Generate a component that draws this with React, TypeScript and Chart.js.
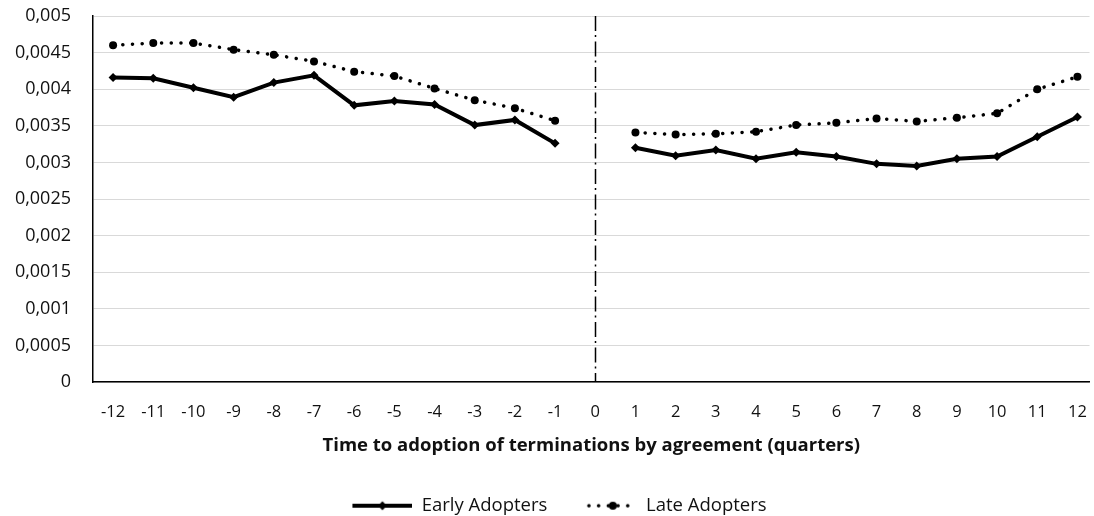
import { useEffect, useRef } from "react";
import { Chart, registerables } from "chart.js";

Chart.register(...registerables);

// quarters relative to adoption; 0 has no observation
const quarters = [-12, -11, -10, -9, -8, -7, -6, -5, -4, -3, -2, -1, 0, 1, 2, 3, 4, 5, 6, 7, 8, 9, 10, 11, 12];

const earlyAdopters = [
  0.00416, 0.00415, 0.00402, 0.00389, 0.00409, 0.00419, 0.00378, 0.00384, 0.00379, 0.00351, 0.00358, 0.00326,
  null,
  0.0032, 0.00309, 0.00317, 0.00305, 0.00314, 0.00308, 0.00298, 0.00295, 0.00305, 0.00308, 0.00335, 0.00362,
];

const lateAdopters = [
  0.0046, 0.00463, 0.00463, 0.00454, 0.00447, 0.00438, 0.00424, 0.00418, 0.00401, 0.00385, 0.00374, 0.00357,
  null,
  0.00341, 0.00338, 0.00339, 0.00342, 0.00351, 0.00354, 0.0036, 0.00356, 0.00361, 0.00367, 0.004, 0.00417,
];

const yTickValues = [0, 0.0005, 0.001, 0.0015, 0.002, 0.0025, 0.003, 0.0035, 0.004, 0.0045, 0.005];
const yTickLabels = ["0", "0,0005", "0,001", "0,0015", "0,002", "0,0025", "0,003", "0,0035", "0,004", "0,0045", "0,005"];

const xTitle = "Time to adoption of terminations by agreement (quarters)";
const seriesNames = ["Early Adopters", "Late Adopters"];

const FONT = "'Open Sans', sans-serif";
const TEXT = "#111";

// legend symbol: a short piece of line with the marker in the middle
// (left part of the canvas stays blank, it spaces the items apart)
function legendSymbol(dotted: boolean) {
  const c = document.createElement("canvas");
  c.width = 85;
  c.height = 14;
  const g = c.getContext("2d")!;
  g.strokeStyle = "#000";
  g.fillStyle = "#000";
  g.beginPath();
  if (dotted) {
    g.lineCap = "round";
    g.lineWidth = 3.5;
    g.setLineDash([0.1, 9.6]);
    g.moveTo(37, 7);
    g.lineTo(85, 7);
  } else {
    g.lineWidth = 4;
    g.moveTo(25, 7);
    g.lineTo(85, 7);
  }
  g.stroke();
  g.setLineDash([]);
  g.beginPath();
  if (dotted) {
    g.arc(61, 7, 4, 0, Math.PI * 2);
  } else {
    g.moveTo(55, 2.5);
    g.lineTo(59.5, 7);
    g.lineTo(55, 11.5);
    g.lineTo(50.5, 7);
    g.closePath();
  }
  g.fill();
  return c;
}

const adoptionLine = {
  id: "adoptionLine",
  afterDatasetsDraw(chart: Chart) {
    const { ctx, chartArea, scales } = chart;
    const x = Math.round(scales.x.getPixelForValue(0)) + 0.5;
    ctx.save();
    ctx.strokeStyle = "#000";
    ctx.lineWidth = 1.5;
    ctx.setLineDash([15, 4, 2, 4.5]);
    ctx.beginPath();
    ctx.moveTo(x, chartArea.top);
    ctx.lineTo(x, chartArea.bottom);
    ctx.stroke();
    ctx.restore();
  },
};

export default function App() {
  const chartRef = useRef<HTMLCanvasElement>(null);

  useEffect(() => {
    if (!chartRef.current) return;
    const ctx = chartRef.current.getContext("2d");
    if (!ctx) return;

    const symbols = [legendSymbol(false), legendSymbol(true)];

    const chart = new Chart(ctx, {
      type: "line",
      data: {
        datasets: [
          {
            label: seriesNames[0],
            data: quarters.map((q, i) => ({ x: q, y: earlyAdopters[i] })),
            borderColor: "#000",
            backgroundColor: "#000",
            borderWidth: 4,
            pointStyle: "rectRot",
            pointRadius: 4.5,
            pointBorderWidth: 0,
            tension: 0,
            spanGaps: false,
          },
          {
            label: seriesNames[1],
            data: quarters.map((q, i) => ({ x: q, y: lateAdopters[i] })),
            borderColor: "#000",
            backgroundColor: "#000",
            borderWidth: 3.5,
            borderDash: [0.1, 9.6],
            borderCapStyle: "round",
            pointStyle: "circle",
            pointRadius: 4,
            pointBorderWidth: 0,
            tension: 0,
            spanGaps: false,
          },
        ],
      },
      options: {
        animation: false,
        responsive: true,
        maintainAspectRatio: false,
        layout: { padding: { top: 16, left: 0, right: 0, bottom: -9 } },
        plugins: {
          tooltip: { enabled: false },
          legend: {
            position: "bottom",
            labels: {
              usePointStyle: true,
              pointStyleWidth: 85,
              padding: 4.5,
              color: TEXT,
              font: { family: FONT, size: 18.5 },
              generateLabels: () =>
                seriesNames.map((name, i) => ({
                  text: name,
                  pointStyle: symbols[i],
                  datasetIndex: i,
                  fillStyle: "#000",
                  strokeStyle: "#000",
                  fontColor: TEXT,
                  lineWidth: 0,
                  hidden: false,
                })),
            },
          },
        },
        scales: {
          x: {
            type: "linear",
            min: -12.5,
            max: 12.3,
            afterBuildTicks: (axis) => {
              axis.ticks = quarters.map((v) => ({ value: v }));
            },
            afterFit: (scale) => {
              scale.height = 110;
            },
            grid: {
              display: true,
              drawOnChartArea: false,
              drawTicks: true,
              tickLength: 20,
              tickColor: "rgba(0,0,0,0)",
            },
            border: { display: true, color: "#000", width: 1.5 },
            ticks: {
              padding: 0,
              color: TEXT,
              maxRotation: 0,
              autoSkip: false,
              font: { family: FONT, size: 16.5 },
              callback: (v) => String(v),
            },
            title: {
              display: true,
              text: xTitle,
              color: TEXT,
              padding: { top: 0, bottom: 35 },
              font: { family: FONT, size: 18.5, weight: "bold" },
            },
          },
          y: {
            min: 0,
            max: 0.005,
            afterBuildTicks: (axis) => {
              axis.ticks = yTickValues.map((v) => ({ value: v }));
            },
            afterFit: (scale) => {
              scale.width = 93;
            },
            grid: {
              color: "#d9d9d9",
              lineWidth: 1,
              drawTicks: true,
              tickLength: 22,
              tickColor: "rgba(0,0,0,0)",
            },
            border: { display: true, color: "#000", width: 1.5 },
            ticks: {
              padding: 0,
              color: TEXT,
              font: { family: FONT, size: 18 },
              callback: (_v, i) => yTickLabels[i],
            },
          },
        },
      },
      plugins: [adoptionLine],
    });

    return () => {
      chart.destroy();
    };
  }, []);

  return (
    <div style={{ position: "fixed", left: 0, top: 0, width: 1094, height: 516, background: "#fff" }}>
      <canvas ref={chartRef} />
    </div>
  );
}
